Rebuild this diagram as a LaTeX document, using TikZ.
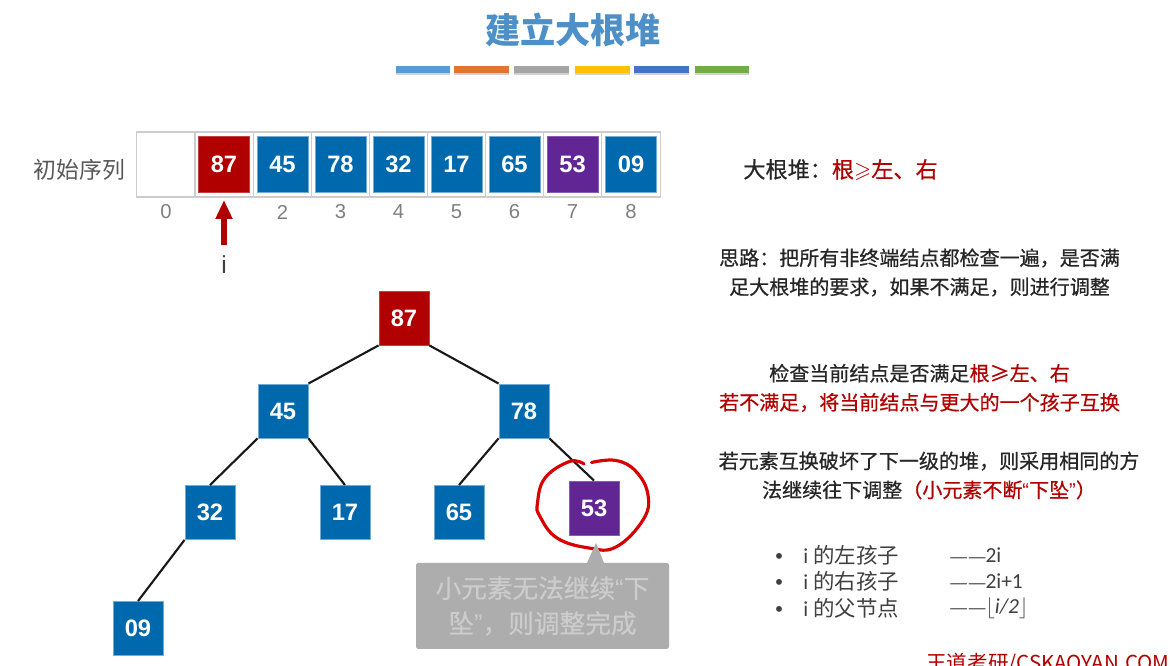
\documentclass[tikz,border=0pt]{standalone}
\usepackage{amsmath, amssymb, fontspec}
\usetikzlibrary{arrows.meta, shadows}
\setmainfont{Noto Sans CJK SC}
\newfontfamily\notefont[FakeBold=0.6]{Noto Sans CJK SC}
\newfontfamily\numfont{Liberation Sans}
\newfontfamily\listfont{Carlito}
\definecolor{heapblue}{HTML}{0068AD}
\definecolor{heapred}{HTML}{B00000}
\definecolor{heappurple}{HTML}{622594}
\definecolor{titleblue}{HTML}{4D8FC7}
\definecolor{textgray}{HTML}{404040}
\newcommand{\cncomma}{\symbol{"FF0C}}
\newcommand{\cncolon}{\symbol{"FF1A}}
\newcommand{\cnopen}{\symbol{"FF08}}
\newcommand{\cnclose}{\symbol{"FF09}}
\newcommand{\qopen}{{\numfont\symbol{"201C}}}
\newcommand{\qclose}{{\numfont\symbol{"201D}}}
\newcommand{\longdash}{{\numfont\fontsize{9.5}{12}\selectfont\symbol{"2014}\hspace{1pt}\symbol{"2014}}}
\newcommand{\dotitem}{\makebox[16pt][l]{\numfont\symbol{"2022}}}

\begin{document}
\begin{tikzpicture}[
    cell/.style={draw=black!20, line width=0.6pt, minimum width=1.164cm, minimum height=1.3cm},
    val/.style={minimum width=1.02cm, minimum height=1.12cm, text=white, line width=0.5pt,
                font=\numfont\bfseries\fontsize{13.5}{16}\selectfont},
    tree/.style={val, minimum width=1cm, minimum height=1.08cm},
    bluebox/.style={fill=heapblue, draw=heapblue!55!white},
    redbox/.style={fill=heapred, draw=heapred!75!white},
    purplebox/.style={fill=heappurple, draw=heappurple!75!white},
    idx/.style={text=black!50, font=\numfont\fontsize{11.5}{14}\selectfont},
    bar/.style={minimum width=1.09cm, minimum height=0.14cm, inner sep=0pt,
                drop shadow={shadow xshift=0pt, shadow yshift=-1pt, opacity=.35}},
    note/.style={align=center, text=black!85, font=\notefont\fontsize{11.4}{16.5}\selectfont},
    li/.style={anchor=west, inner sep=0pt, text=textgray, font=\fontsize{12.2}{14}\selectfont},
    edge/.style={line width=1.2pt, black!90},
    arr/.style={-{Triangle[length=0.38cm, width=0.32cm]}, line width=3.2pt, heapred}
  ]
  \clip (0,0) rectangle (23.4,13.32);
  \fill[white] (0,0) rectangle (23.4,13.32);

  \node[text=titleblue, font=\bfseries\fontsize{20}{24}\selectfont] (title) at (11.46,12.72) {建立大根堆};
  \node[bar, fill={rgb,255:red,91;green,155;blue,213}] (b1) at (8.46,11.92) {};
  \node[bar, fill={rgb,255:red,226;green,116;blue,49}] (b2) at (9.63,11.92) {};
  \node[bar, fill={rgb,255:red,165;green,165;blue,165}] (b3) at (10.83,11.92) {};
  \node[bar, fill={rgb,255:red,255;green,192;blue,0}] (b4) at (12.05,11.92) {};
  \node[bar, fill={rgb,255:red,68;green,114;blue,196}] (b5) at (13.23,11.92) {};
  \node[bar, fill={rgb,255:red,112;green,173;blue,71}] (b6) at (14.44,11.92) {};

  % array
  \node[text=black!65, font=\fontsize{13}{16}\selectfont] (label) at (1.59,9.92) {初始序列};
  \node[cell] (c0) at (3.32,10.03) {};
  \node[cell] (c1) at (4.48,10.03) {};
  \node[cell] (c2) at (5.65,10.03) {};
  \node[cell] (c3) at (6.81,10.03) {};
  \node[cell] (c4) at (7.97,10.03) {};
  \node[cell] (c5) at (9.13,10.03) {};
  \node[cell] (c6) at (10.29,10.03) {};
  \node[cell] (c7) at (11.45,10.03) {};
  \node[cell] (c8) at (12.62,10.03) {};

  \node[val, redbox] (v1) at (c1) {87};
  \node[val, bluebox] (v2) at (c2) {45};
  \node[val, bluebox] (v3) at (c3) {78};
  \node[val, bluebox] (v4) at (c4) {32};
  \node[val, bluebox] (v5) at (c5) {17};
  \node[val, bluebox] (v6) at (c6) {65};
  \node[val, purplebox] (v7) at (c7) {53};
  \node[val, bluebox] (v8) at (c8) {09};

  \node[idx] (i0) at (3.32,9.08) {0};
  \node[idx] (i2) at (5.65,9.08) {2};
  \node[idx] (i3) at (6.81,9.08) {3};
  \node[idx] (i4) at (7.97,9.08) {4};
  \node[idx] (i5) at (9.13,9.08) {5};
  \node[idx] (i6) at (10.29,9.08) {6};
  \node[idx] (i7) at (11.45,9.08) {7};
  \node[idx] (i8) at (12.62,9.08) {8};

  \node[text=textgray, font=\numfont\fontsize{14}{16}\selectfont] (ptr) at (4.48,8.02) {i};
  \coordinate (ptrtip) at (4.48,9.32);
  \coordinate (ptrend) at (4.48,8.42);
  \draw[arr] (ptrend) -- (ptrtip);

  % tree
  \node[tree, redbox] (A) at (8.08,6.96) {87};
  \node[tree, bluebox] (B) at (5.66,5.10) {45};
  \node[tree, bluebox] (C) at (10.48,5.10) {78};
  \node[tree, bluebox] (D) at (4.20,3.07) {32};
  \node[tree, bluebox] (E) at (6.90,3.07) {17};
  \node[tree, bluebox] (F) at (9.18,3.07) {65};
  \node[tree, purplebox] (G) at (11.88,3.16) {53};
  \node[tree, bluebox] (H) at (2.76,0.75) {09};

  \draw[edge] (A.south west) -- (B.north east);
  \draw[edge] (A.south east) -- (C.north west);
  \draw[edge] (B.south west) -- (D.north);
  \draw[edge] (B.south east) -- (E.north);
  \draw[edge] (C.south west) -- (F.north);
  \draw[edge] (C.south east) -- (G.north);
  \draw[edge] (D.south west) -- (H.north);

  % hand drawn ring
  \draw[line width=1.8pt, red!85!black, line cap=round] plot[smooth, tension=0.7] coordinates
    {(11.83,4.07) (12.32,4.11) (12.72,3.89) (12.96,3.42) (12.86,2.92) (12.32,2.38)
     (11.78,2.36) (11.14,2.56) (10.80,2.99) (10.75,3.26) (10.90,3.76) (11.39,4.09) (11.68,4.04)};

  % callout
  \fill[black!32, rounded corners=1pt] (8.32,0.34) rectangle (13.38,2.06);
  \fill[black!32] (11.74,2.06) -- (11.92,2.46) -- (12.08,2.06) -- cycle;
  \node[align=center, text=black!20, font=\notefont\fontsize{14.6}{20}\selectfont] (tip) at (10.85,1.2)
    {小元素无法继续\qopen 下\\坠\qclose\cncomma 则调整完成};

  % notes
  \node[anchor=west, inner sep=0pt, note, font=\notefont\fontsize{12.6}{15}\selectfont] (rule) at (14.86,9.92)
    {大根堆\cncolon\textcolor{heapred}{根$\boldsymbol{\geqslant}$左、右}};
  \node[note] (idea) at (18.39,7.87) {思路\cncolon 把所有非终端结点都检查一遍\cncomma 是否满\\足大根堆的要求\cncomma 如果不满足\cncomma 则进行调整};
  \node[note] (check) at (18.39,5.56) {检查当前结点是否满足\textcolor{heapred}{根≥左、右}\\\textcolor{heapred}{若不满足\cncomma 将当前结点与更大的一个孩子互换}};
  \node[note] (swap) at (18.58,3.81) {若元素互换破坏了下一级的堆\cncomma 则采用相同的方\\法继续往下调整\textcolor{heapred}{\cnopen 小元素不断\qopen 下坠\qclose\cnclose}};

  % list
  \node[li] (l1) at (15.5,2.22) {\dotitem{\listfont i} 的左孩子};
  \node[li] (l2) at (15.5,1.70) {\dotitem{\listfont i} 的右孩子};
  \node[li] (l3) at (15.5,1.16) {\dotitem{\listfont i} 的父节点};
  \node[li] (r1) at (19.0,2.22) {\longdash{\listfont 2i}};
  \node[li] (r2) at (19.0,1.70) {\longdash{\listfont 2i+1}};
  \node[li] (r3) at (19.0,1.16) {\longdash$\lfloor${\listfont\itshape i/2}$\rfloor$};

  \node[anchor=west, inner sep=0pt, text=red!70!black, font=\fontsize{11.7}{15}\selectfont] (brand) at (18.52,0.05) {王道考研/CSKAOYAN.COM};
\end{tikzpicture}
\end{document}
